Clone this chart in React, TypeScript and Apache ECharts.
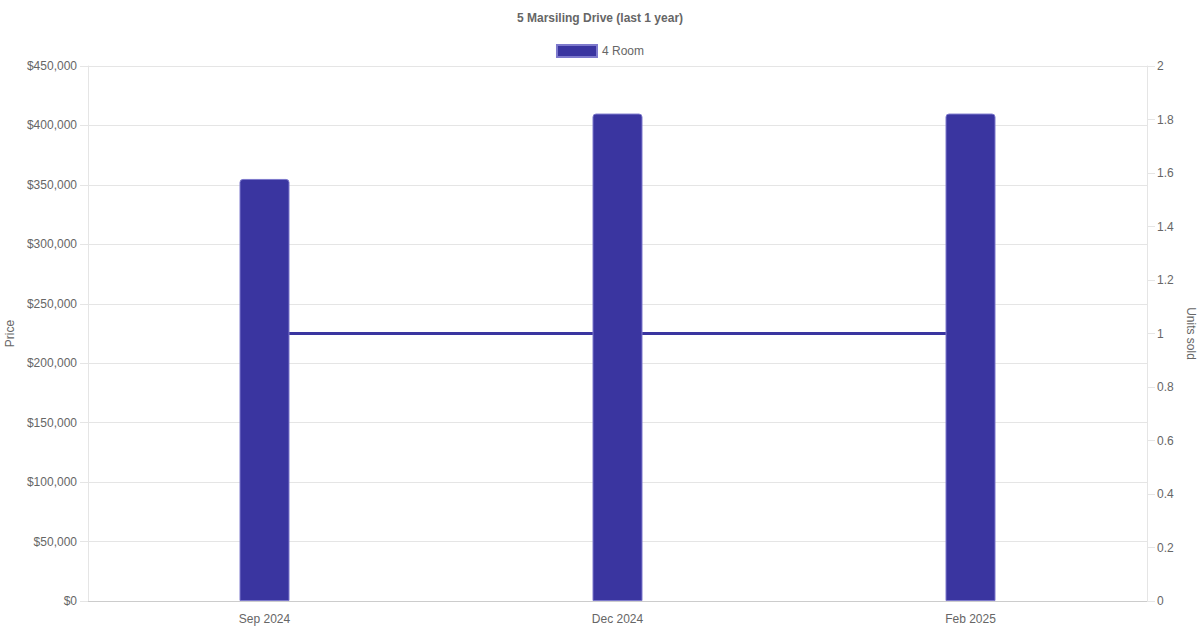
import React, { useEffect, useRef } from "react";
import * as echarts from "echarts";

const categories = ["Sep 2024", "Dec 2024", "Feb 2025"];
const prices = [355000, 410000, 410000];
const unitsSold = [1, 1, 1];
const seriesName = "4 Room";
const titleText = "5 Marsiling Drive (last 1 year)";

const FONT = "'Liberation Sans', Arial, Helvetica, sans-serif";
const TEXT = "#666666";
const GRID = "#e5e5e5";
const BAR = "#3a35a0";
const BAR_BORDER = "#7d79cc";

export default function App() {
  const ref = useRef<HTMLDivElement>(null);
  useEffect(() => {
    if (!ref.current) return;
    const chart = echarts.init(ref.current, null, { renderer: "svg" });
    chart.setOption({
      animation: false,
      textStyle: { fontFamily: FONT },
      title: {
        text: titleText,
        left: "center",
        top: 7,
        textStyle: { fontSize: 12, fontWeight: "bold", color: TEXT, fontFamily: FONT },
      },
      legend: {
        data: [{ name: seriesName, icon: "rect" }],
        top: 39,
        left: "center",
        itemWidth: 40,
        itemHeight: 12,
        itemGap: 10,
        textStyle: { fontSize: 12, color: TEXT, fontFamily: FONT },
      },
      grid: {
        left: 88,
        right: 53,
        top: 66,
        bottom: 29,
        containLabel: false,
        outerBoundsMode: "none",
      },
      xAxis: {
        type: "category",
        data: categories,
        boundaryGap: true,
        axisLine: { show: true, lineStyle: { color: "#cccccc", width: 1 } },
        axisTick: { show: false },
        axisLabel: { color: TEXT, fontSize: 12, margin: 12, fontFamily: FONT },
        splitLine: { show: false },
      },
      yAxis: [
        {
          type: "value",
          name: "Price",
          nameLocation: "middle",
          nameGap: 71,
          nameRotate: 90,
          nameTextStyle: { color: TEXT, fontSize: 12, fontFamily: FONT },
          min: 0,
          max: 450000,
          interval: 50000,
          axisLine: { show: true, lineStyle: { color: GRID } },
          axisTick: { show: true, length: 8, lineStyle: { color: GRID } },
          axisLabel: {
            color: TEXT,
            fontSize: 12,
            margin: 11,
            fontFamily: FONT,
            formatter: (v: number) => "$" + v.toLocaleString("en-US"),
          },
          splitLine: { show: true, lineStyle: { color: GRID, width: 1 } },
        },
        {
          type: "value",
          name: "Units sold",
          position: "right",
          nameLocation: "middle",
          nameGap: 34,
          nameRotate: -90,
          nameTextStyle: { color: TEXT, fontSize: 12, fontFamily: FONT },
          min: 0,
          max: 2,
          interval: 0.2,
          axisLine: { show: true, lineStyle: { color: GRID } },
          axisTick: { show: true, length: 8, lineStyle: { color: GRID } },
          axisLabel: {
            color: TEXT,
            fontSize: 12,
            margin: 10,
            fontFamily: FONT,
            formatter: (v: number) => String(+v.toFixed(1)),
          },
          splitLine: { show: false },
        },
      ],
      series: [
        {
          name: seriesName,
          type: "bar",
          yAxisIndex: 0,
          data: prices,
          barWidth: 50,
          z: 3,
          itemStyle: {
            color: BAR,
            borderColor: BAR_BORDER,
            borderWidth: 1,
            borderRadius: [3, 3, 0, 0],
          },
        },
        {
          name: "Units sold",
          type: "line",
          yAxisIndex: 1,
          data: unitsSold,
          z: 2,
          symbol: "none",
          lineStyle: { color: BAR, width: 3 },
          itemStyle: { color: BAR },
        },
      ],
    });
    return () => chart.dispose();
  }, []);
  return (
    <div
      ref={ref}
      style={{ position: "fixed", left: 0, top: 0, width: 1200, height: 630, background: "#ffffff" }}
    />
  );
}
